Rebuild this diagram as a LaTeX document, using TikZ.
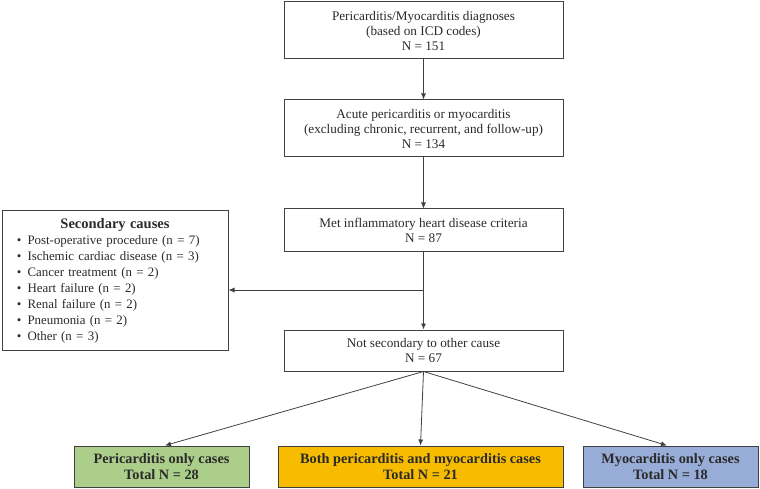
\documentclass[tikz,border=0pt]{standalone}
\usepackage{fontspec}
\setmainfont{Liberation Serif}
\usetikzlibrary{arrows.meta}
\definecolor{linec}{HTML}{404040}
\definecolor{textc}{HTML}{2A2A2A}
\definecolor{greenc}{HTML}{ABCF8A}
\definecolor{orangec}{HTML}{F7BC00}
\definecolor{bluec}{HTML}{98ACD8}
\tikzset{
  box/.style={draw=linec, line width=1pt, text=textc, align=center, minimum width=279pt, minimum height=57pt, inner sep=2pt, font=\fontsize{13.2}{15}\selectfont},
  resbox/.style={draw=linec, line width=1pt, text=textc, align=center, minimum height=41pt, minimum width=175pt, inner sep=2pt, font=\fontsize{14.3}{15.5}\selectfont\bfseries},
  arr/.style={draw=linec, line width=0.8pt, -{Latex[length=6pt,width=5pt]}},
}
\newcommand{\bitem}[1]{\hspace*{9pt}\textbullet\hspace{6pt}#1}
\begin{document}
\begin{tikzpicture}[x=1pt,y=-1pt]
\useasboundingbox (0,0) rectangle (760,489);
\node[box] (b1) at (423.5,30.5) {Pericarditis/Myocarditis diagnoses\\(based on ICD codes)\\N = 151};
\node[box] (b2) at (423.5,128.5) {Acute pericarditis or myocarditis\\(excluding chronic, recurrent, and follow-up)\\N = 134};
\node[box, minimum height=42pt] (b3) at (423.5,230) {Met inflammatory heart disease criteria\\N = 87};
\node[box, minimum height=41pt] (b4) at (423.5,350.5) {Not secondary to other cause\\N = 67};
\node[draw=linec, line width=1pt, text=textc, minimum width=226pt, minimum height=139pt, text width=214pt, align=left, inner sep=0pt, font=\fontsize{12.9}{16}\selectfont] (sec) at (115,280.5)
  {{\centering\fontsize{14.5}{16}\selectfont\textbf{Secondary causes}\par}\raggedright
   \bitem{Post-operative procedure (n = 7)}\\
   \bitem{Ischemic cardiac disease (n = 3)}\\
   \bitem{Cancer treatment (n = 2)}\\
   \bitem{Heart failure (n = 2)}\\
   \bitem{Renal failure (n = 2)}\\
   \bitem{Pneumonia (n = 2)}\\
   \bitem{Other (n = 3)}};
\node[resbox, fill=greenc] (g) at (161.5,466.5) {Pericarditis only cases\\Total N = 28};
\node[resbox, fill=orangec, minimum width=285pt] (o) at (420.5,466.5) {Both pericarditis and myocarditis cases\\Total N = 21};
\node[resbox, fill=bluec] (bl) at (670.5,466.5) {Myocarditis only cases\\Total N = 18};
\coordinate (split) at (423.5,290);
\draw[arr] (b1) -- (b2);
\draw[arr] (b2) -- (b3);
\draw[arr] (b3) -- (b4);
\draw[arr] (split) -- (sec.east |- split);
\draw[arr] (b4.south) -- ([xshift=3.5pt]g.north);
\draw[arr] (b4.south) -- (o.north);
\draw[arr] (b4.south) -- ([xshift=-3.5pt]bl.north);
\end{tikzpicture}
\end{document}
